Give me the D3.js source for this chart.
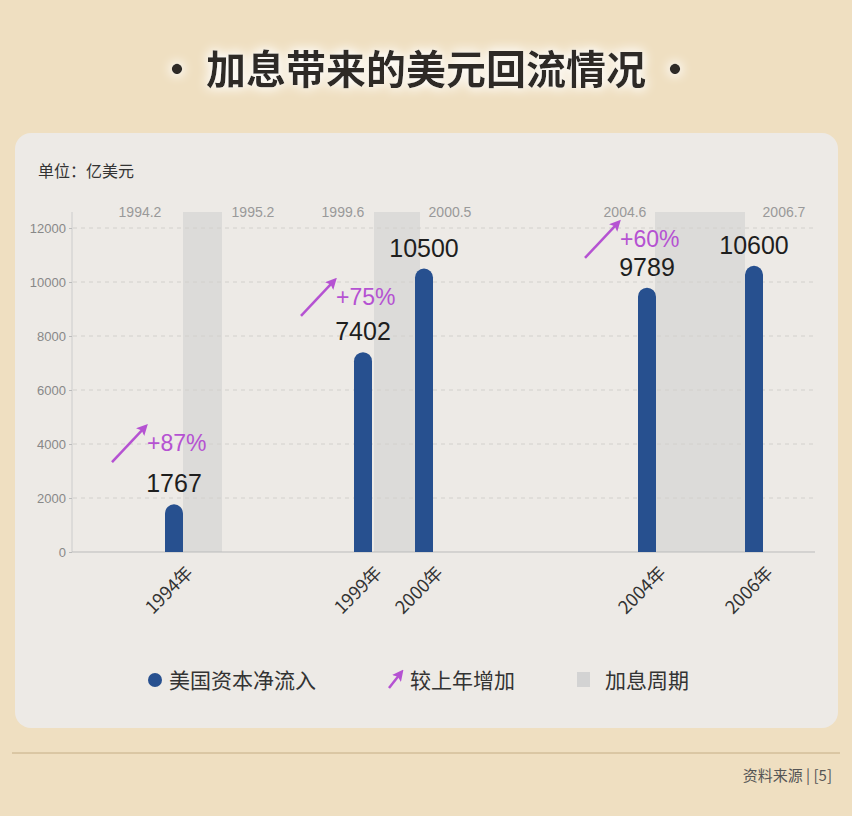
<!DOCTYPE html><html><head><meta charset="utf-8"><script src="https://cdn.jsdelivr.net/npm/d3@7"></script>
<style>body{margin:0;background:#efdfc1}</style></head><body><svg id="c" width="852" height="816"></svg>
<script>
const categories=["1994年","1999年","2000年","2004年","2006年"];
const values=[1767,7402,10500,9789,10600];
const growth=[{cat:"1994年",label:"+87%"},{cat:"1999年",label:"+75%"},{cat:"2004年",label:"+60%"}];
const growthAt=[4740,10150,12300];
const cycleLabels=[["1994.2","1995.2"],["1999.6","2000.5"],["2004.6","2006.7"]];
const yTicks=[0,2000,4000,6000,8000,10000,12000];
const F="'Noto Sans CJK SC','Noto Sans',sans-serif";
const svg=d3.select("#c");
const defs=svg.append("defs");
const fl=defs.append("filter").attr("id","glow").attr("x","-10%").attr("y","-40%").attr("width","120%").attr("height","180%");
fl.append("feGaussianBlur").attr("in","SourceAlpha").attr("stdDeviation","6").attr("result","b");
fl.append("feFlood").attr("flood-color","#fff");fl.append("feComposite").attr("in2","b").attr("operator","in");
const m=fl.append("feMerge");m.append("feMergeNode");m.append("feMergeNode");m.append("feMergeNode").attr("in","SourceGraphic");
svg.append("rect").attr("width",852).attr("height",816).attr("fill","#efdfc1");
svg.append("text").attr("x",426).attr("y",84).attr("text-anchor","middle").attr("font-family",F).attr("font-weight","bold").attr("font-size",40).attr("fill","#2e2a26").attr("filter","url(#glow)").text("·  加息带来的美元回流情况 ·");
svg.append("rect").attr("x",15).attr("y",133).attr("width",823).attr("height",595).attr("rx",16).attr("fill","#edeae6");
svg.append("text").attr("x",38).attr("y",177).attr("font-family",F).attr("font-size",16).attr("fill","#333").text("单位：亿美元");
const y=d3.scaleLinear().domain([0,12000]).range([552,228]);
const x=d3.scaleOrdinal().domain(categories).range([174,363,424,647,754]);
const bands=[[x("1994年")+9,x("1994年")+48],[x("1999年")+11,x("2000年")-4],[x("2004年")+8,x("2006年")-9]];
svg.selectAll(".band").data(bands).join("rect").attr("x",d=>d[0]).attr("width",d=>d[1]-d[0]).attr("y",212).attr("height",552-212).attr("fill","#dcdbd9");
svg.selectAll(".g").data(yTicks.slice(1)).join("line").attr("x1",73).attr("x2",815).attr("y1",d=>y(d)).attr("y2",d=>y(d)).attr("stroke","#d2d0cc").attr("stroke-dasharray","4,4");
const ya=svg.append("g").attr("transform","translate(72,0)").call(d3.axisLeft(y).tickValues(yTicks).tickSize(3).tickFormat(d3.format("d")));
ya.select(".domain").attr("stroke","#ccc").attr("d","M0,552V212");
ya.selectAll("line").attr("stroke","#bbb");
ya.selectAll("text").attr("font-family","Liberation Sans").attr("font-size",13).attr("fill","#888");
svg.append("line").attr("x1",72).attr("x2",815).attr("y1",552).attr("y2",552).attr("stroke","#bbb");
const cl=[[bands[0][0]-43,bands[0][1]+31],[bands[1][0]-31,bands[1][1]+30],[bands[2][0]-30,bands[2][1]+39]];
cycleLabels.forEach((p,i)=>p.forEach((t,j)=>svg.append("text").attr("x",cl[i][j]).attr("y",217).attr("text-anchor","middle").attr("font-family","Liberation Sans").attr("font-size",14).attr("fill","#999").text(t)));
svg.selectAll(".bar").data(values).join("path").attr("fill","#27508f").attr("d",(d,i)=>{const cx=x(categories[i]),w=18,t=y(d),b=y(0);return `M${cx-w/2},${b}V${t+9}A9,9 0 0 1 ${cx+w/2},${t+9}V${b}Z`;});
svg.selectAll(".vl").data(values).join("text").attr("x",(d,i)=>x(categories[i])).attr("y",d=>y(d)-12).attr("text-anchor","middle").attr("font-family","Liberation Sans").attr("font-size",25).attr("fill","#1e1e1e").text(d=>d);
defs.append("marker").attr("id","ah").attr("viewBox","0 0 10 10").attr("refX",5).attr("refY",5).attr("markerWidth",4.5).attr("markerHeight",4.5).attr("orient","auto").append("path").attr("d","M0,0L10,5L0,10L2,5Z").attr("fill","#b552d2");
growth.forEach((g,i)=>{const cx=x(g.cat)-30,cy=y(growthAt[i]);
 svg.append("line").attr("x1",cx-32).attr("y1",cy+38).attr("x2",cx).attr("y2",cy+4).attr("stroke","#b552d2").attr("stroke-width",2.5).attr("marker-end","url(#ah)");
 svg.append("text").attr("x",cx+3).attr("y",cy+27).attr("font-family","Liberation Sans").attr("font-size",23).attr("fill","#b552d2").text(g.label);});
categories.forEach(c=>svg.append("text").attr("transform",`translate(${x(c)+20},574) rotate(-45)`).attr("text-anchor","end").attr("font-family",F).attr("font-size",18).attr("fill","#333").text(c));
const lg=svg.append("g").attr("font-family",F).attr("font-size",21).attr("fill","#333");
lg.append("circle").attr("cx",155).attr("cy",680).attr("r",7).attr("fill","#27508f");
lg.append("text").attr("x",169).attr("y",688).text("美国资本净流入");
lg.append("line").attr("x1",389).attr("y1",688).attr("x2",400).attr("y2",674).attr("stroke","#b552d2").attr("stroke-width",2.5).attr("marker-end","url(#ah)");
lg.append("text").attr("x",410).attr("y",688).text("较上年增加");
lg.append("rect").attr("x",577).attr("y",672).attr("width",13).attr("height",15).attr("fill","#d3d3d3");
lg.append("text").attr("x",605).attr("y",688).text("加息周期");
svg.append("line").attr("x1",12).attr("x2",840).attr("y1",753).attr("y2",753).attr("stroke","#c5ae86");
svg.append("text").attr("x",832).attr("y",781).attr("text-anchor","end").attr("font-family",F).attr("font-size",15).attr("fill","#555").text("资料来源 |  [5]");
</script></body></html>
